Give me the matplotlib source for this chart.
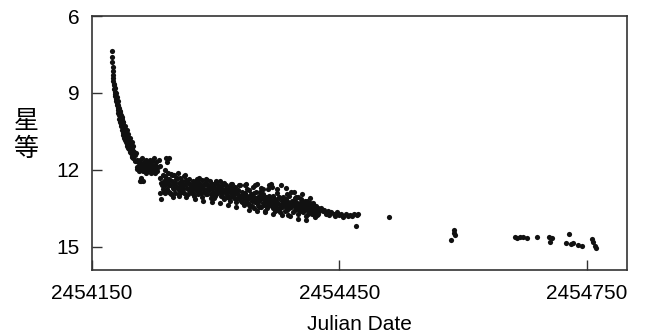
import numpy as np
import matplotlib.pyplot as plt

# Julian Date offsets from 2454000 and magnitudes
JD_BASE = 2454000

decline_jd = [174, 174, 174.5, 175, 175, 175.5, 176, 176, 176.5, 177, 177, 177.5, 178, 178, 178.5,
              179, 179, 179.5, 180, 180, 180.5, 181, 181, 181.5, 182, 182, 182.5, 183, 183, 183.5,
              184, 184, 184.5, 185, 185, 185.5, 186, 186, 186.5, 187, 187, 187.5, 188, 188, 188.5,
              189, 189, 189.5, 190, 190, 191, 191, 192, 192, 193, 193, 194, 194, 195, 195, 196, 196,
              197, 197, 198, 198, 199, 199, 200, 200, 201, 202, 202, 203,
              184, 186, 188, 190, 192, 194, 196, 198, 200]
decline_mag = [7.35, 7.6, 7.8, 8.0, 8.15, 8.3, 8.4, 8.55, 8.65, 8.7, 8.85, 8.95, 8.8, 9.05, 9.1,
               9.0, 9.25, 9.3, 9.15, 9.4, 9.45, 9.3, 9.6, 9.65, 9.45, 9.8, 9.85, 9.6, 10.0, 9.75,
               9.9, 10.15, 10.05, 9.85, 10.3, 10.2, 10.0, 10.45, 10.3, 10.15, 10.55, 10.4, 10.25, 10.65, 10.5,
               10.35, 10.75, 10.6, 10.45, 10.85, 10.55, 10.9, 10.65, 11.0, 10.75, 11.05, 10.8, 11.15, 10.9, 11.2, 11.0, 11.3,
               11.05, 11.35, 11.1, 11.45, 11.2, 11.5, 11.25, 11.55, 11.3, 11.4, 11.65, 11.35,
               9.7, 9.95, 10.15, 10.3, 10.45, 10.6, 10.75, 10.9, 11.05]

plateau_jd = [204, 204, 205, 205, 206, 207, 207, 208, 209, 209, 210, 211, 211,
              212, 213, 213, 214, 215, 215, 216, 217, 218, 218, 219, 220, 221, 221, 222, 223, 223,
              224, 225, 226, 226, 227, 228, 229, 230, 231, 232, 208, 210, 212, 209, 243, 241]
plateau_mag = [11.6, 11.9, 11.65, 11.95, 11.7, 11.85, 12.05, 11.6, 11.75, 12.0, 11.9, 11.55, 11.8,
               12.05, 11.7, 11.95, 11.85, 11.6, 12.1, 11.8, 11.95, 11.7, 12.0, 11.85, 11.6, 11.9, 12.1, 11.75, 11.65, 12.0,
               11.85, 11.55, 11.95, 12.1, 11.8, 11.7, 12.05, 11.9, 11.6, 11.85, 12.45, 12.45, 12.45, 12.3, 11.55, 11.7]

early_jd = [233, 233, 234, 235, 236, 236, 237, 238, 238, 239, 240, 240, 241, 242, 242, 243, 244,
            245, 246, 246, 247, 248, 249, 250, 251, 252, 253, 254, 255, 256, 257, 258, 259, 260,
            261, 262, 263, 264, 265, 266, 267, 268, 269, 270,
            234, 237, 239, 241, 243, 245, 247, 249, 251, 253, 255, 257, 259, 261, 263, 265, 267,
            269, 248, 256, 264]
early_mag = [12.3, 12.9, 13.15, 12.6, 12.2, 12.75, 12.45, 12.0, 12.9, 12.6, 11.55, 12.3, 12.75, 12.1, 12.5, 12.85, 12.35,
             12.6, 12.15, 12.95, 12.45, 12.7, 12.2, 12.55, 12.9, 12.35, 12.65, 12.1, 12.5, 12.8, 12.3, 12.6, 12.45, 12.75,
             12.25, 12.9, 12.55, 12.4, 12.7, 12.95, 12.5, 12.35, 12.8, 12.6,
             12.5, 12.85, 12.25, 12.45, 12.6, 12.9, 12.2, 12.75, 12.5, 12.3, 12.95, 12.7, 12.85, 12.6, 12.2, 12.45, 12.75,
             12.55, 13.05, 13.0, 13.05]

mid_jd = [271, 272, 273, 274, 275, 276, 277, 278, 279, 280, 281, 282, 283, 284, 285, 286, 287, 288,
          289, 290, 291, 292, 293, 294, 295, 296, 297, 298, 299, 300, 301, 302, 303, 304, 305, 306,
          307, 308, 309, 310, 311, 312, 313, 314, 315, 316, 317, 318, 319, 320, 321, 322, 323, 324,
          325, 326, 327, 328, 329, 330,
          270.5, 272.5, 274.5, 276.5, 278.5, 280.5, 282.5, 284.5, 286.5, 288.5, 290.5, 292.5, 294.5,
          296.5, 298.5, 300.5, 302.5, 304.5, 306.5, 308.5, 310.5, 312.5, 314.5, 316.5, 318.5, 320.5,
          322.5, 324.5, 326.5, 328.5,
          275, 280, 285, 290, 295, 300, 305, 310, 315, 320, 325, 278, 288, 298, 308, 318, 328]
mid_mag = [12.9, 12.45, 12.7, 13.0, 12.55, 12.8, 12.35, 12.65, 12.95, 12.5, 12.75, 12.6, 13.05, 12.4, 12.7, 12.85, 12.55, 12.35,
           12.75, 12.95, 12.6, 12.8, 12.45, 13.1, 12.7, 12.55, 12.85, 12.65, 13.0, 12.5, 12.75, 12.9, 12.6, 12.8, 12.45, 13.0,
           12.7, 12.85, 12.55, 13.15, 12.75, 12.9, 12.6, 13.05, 12.8, 12.7, 13.2, 12.85, 12.55, 13.0, 12.75, 13.1, 12.9, 12.65,
           13.25, 12.95, 12.8, 13.1, 12.6, 13.0,
           12.65, 12.9, 12.6, 12.45, 12.85, 12.7, 12.9, 12.6, 12.5, 12.95, 12.75, 12.65, 12.95,
           13.05, 12.55, 12.95, 12.8, 12.7, 12.9, 13.05, 12.8, 12.9, 13.0, 13.1, 12.85, 13.0,
           12.8, 13.15, 12.9, 13.05,
           13.15, 12.3, 13.2, 12.4, 13.25, 12.45, 13.3, 12.5, 13.35, 12.55, 13.45, 12.55, 12.55, 13.1, 12.6, 12.65, 12.6]

late_jd = [331, 332, 333, 334, 335, 336, 337, 338, 339, 340, 341, 342, 343, 344, 345, 346, 347, 348,
           349, 350, 351, 352, 353, 354, 355, 356, 357, 358, 359, 360, 361, 362, 363, 364, 365, 366,
           367, 368, 369, 370, 371, 372, 373, 374, 375, 376, 377, 378, 379, 380, 381, 382, 383, 384,
           385, 386, 387, 388, 389, 390, 391, 392, 393, 394, 395, 396, 397, 398, 399, 400, 401, 402,
           403, 404, 405, 406, 407, 408, 409, 410, 411, 412, 413, 414, 415, 416, 417, 418, 419, 420,
           421, 422, 423, 424, 425,
           330.5, 332.5, 334.5, 336.5, 338.5, 340.5, 342.5, 344.5, 346.5, 348.5, 350.5, 352.5, 354.5,
           356.5, 358.5, 360.5, 362.5, 364.5, 366.5, 368.5, 370.5, 372.5, 374.5, 376.5, 378.5, 380.5,
           382.5, 384.5, 386.5, 388.5, 390.5, 392.5, 394.5, 396.5, 398.5, 400.5, 402.5, 404.5, 406.5,
           408.5, 410.5, 412.5, 414.5, 416.5, 418.5, 420.5, 422.5, 424.5,
           335, 340, 345, 350, 355, 360, 365, 370, 375, 380, 385, 390, 395, 400, 405, 410, 415, 420,
           338, 348, 358, 368, 378, 388, 398, 408, 418]
late_mag = [13.2, 12.85, 13.05, 13.35, 12.9, 13.15, 12.55, 13.0, 13.3, 12.8, 13.1, 13.4, 12.95, 13.2, 13.05, 13.5, 12.9, 13.25,
            13.1, 12.55, 13.35, 13.0, 13.2, 12.85, 13.45, 13.1, 13.3, 12.95, 13.15, 13.6, 13.05, 13.25, 12.75, 13.4, 13.1, 13.3,
            12.55, 13.2, 13.5, 13.0, 13.35, 13.15, 13.45, 12.9, 13.25, 13.55, 13.1, 13.35, 12.6, 13.2, 13.45, 13.05, 13.3, 13.6,
            13.15, 13.4, 12.95, 13.25, 13.5, 13.3, 12.85, 13.45, 13.2, 13.65, 13.35, 13.1, 13.5, 13.25, 13.4, 13.05, 13.55, 13.3,
            13.15, 13.6, 13.4, 13.25, 13.5, 13.35, 13.8, 13.45, 13.2, 13.55, 13.4, 13.3, 13.6, 13.45, 13.7, 13.35, 13.5, 13.55,
            13.65, 13.4, 13.75, 13.5, 13.6,
            13.0, 13.25, 12.95, 13.3, 13.15, 13.35, 13.0, 13.4, 13.1, 12.85, 13.2, 13.45, 13.1,
            13.0, 13.35, 13.2, 13.5, 13.0, 13.15, 13.4, 13.25, 13.6, 13.3, 13.05, 13.5, 13.35,
            13.15, 13.4, 13.55, 13.0, 13.45, 13.3, 13.2, 13.55, 13.4, 13.7, 13.5, 13.35, 13.65,
            13.55, 13.3, 13.7, 13.5, 13.6, 13.45, 13.75, 13.55, 13.7,
            12.6, 13.55, 12.65, 13.6, 12.7, 13.65, 12.6, 13.7, 12.75, 13.75, 12.7, 13.8, 12.85, 13.9, 12.95, 13.95, 13.1, 13.85,
            12.75, 12.6, 12.75, 12.65, 13.65, 13.75, 13.05, 13.2, 13.3]

tail_jd = [428, 430, 432, 434, 436, 438, 440, 443, 445, 447, 450, 452, 455, 458, 460, 463, 466, 468,
           470, 471, 473]
tail_mag = [13.5, 13.6, 13.55, 13.7, 13.6, 13.75, 13.65, 13.7, 13.8, 13.65, 13.75, 13.7, 13.85, 13.7, 13.8, 13.75, 13.8, 13.7,
            14.2, 13.75, 13.7]

sparse_jd = [510, 585, 589, 589, 590, 663, 666, 669, 673, 678, 690, 704, 705, 708, 725, 729, 731, 734,
             740, 744, 756, 758, 760, 761]
sparse_mag = [13.82, 14.73, 14.34, 14.45, 14.53, 14.62, 14.65, 14.62, 14.63, 14.65, 14.63, 14.6, 14.8, 14.65, 14.85, 14.5, 14.88, 14.85,
              14.92, 14.97, 14.7, 14.82, 14.95, 15.05]

x_ticks = [2454150, 2454450, 2454750]
y_ticks = [6, 9, 12, 15]

jd = JD_BASE + np.array(decline_jd + plateau_jd + early_jd + mid_jd + late_jd + tail_jd + sparse_jd)
mag = np.array(decline_mag + plateau_mag + early_mag + mid_mag + late_mag + tail_mag + sparse_mag)

plt.rcParams['font.family'] = ['Liberation Sans', 'DejaVu Sans']

fig = plt.figure(figsize=(6.45, 3.36), dpi=100)
ax = fig.add_axes([92 / 645, 66 / 336, 535 / 645, 254 / 336])

ax.scatter(jd, mag, s=14, color='#111111', linewidths=0)

ax.set_xlim(2454150, 2454799)
ax.set_ylim(15.9, 6)
ax.set_xticks(x_ticks)
ax.set_xticklabels([str(t) for t in x_ticks])
ax.set_yticks(y_ticks)

ax.tick_params(axis='x', direction='in', length=7, width=1, pad=10, labelsize=15, color='#333333')
ax.tick_params(axis='y', direction='in', length=7, width=1, pad=9, labelsize=15, color='#333333')
for side in ax.spines.values():
    side.set_linewidth(1.2)
    side.set_color('#333333')

ax.set_xlabel('Julian Date', fontsize=15, labelpad=9)

# vertical stacked y label, one character per line
fig.text(26 / 645, 1 - 135.5 / 336, '星\n等', fontsize=18, ha='center', va='center',
         linespacing=1.1, family=['Noto Sans CJK SC', 'DejaVu Sans'])

fig.savefig('out.png', dpi=100)
